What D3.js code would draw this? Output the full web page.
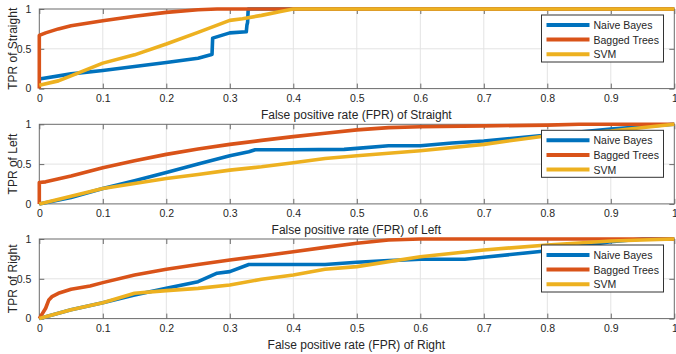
<!DOCTYPE html>
<html><head><meta charset="utf-8">
<script src="https://cdn.jsdelivr.net/npm/d3@7"></script>
<style>html,body{margin:0;padding:0;background:#fff;} svg{display:block;font-family:"Liberation Sans",Arial,sans-serif;}</style>
</head><body>
<svg id="c" width="676" height="354"></svg>
<script>
// ---------- data ----------
const panelNames = ["Straight", "Left", "Right"];
const seriesNames = ["Naive Bayes", "Bagged Trees", "SVM"];
const seriesColors = ["#0072BD", "#D95319", "#EDB120"];
const xTicks = [0, 0.1, 0.2, 0.3, 0.4, 0.5, 0.6, 0.7, 0.8, 0.9, 1];
const yTicks = [0, 0.5, 1];

// Straight
const straightNB = [[0,0.12],[0.05,0.185],[0.1,0.227],[0.15,0.277],[0.2,0.328],[0.25,0.382],[0.27,0.424],[0.272,0.43],[0.273,0.634],[0.3,0.70],[0.326,0.714],[0.327,0.8],[0.328,0.83],[0.329,1.0],[1,1]];
const straightBT = [[0,0],[0,0.668],[0.01,0.70],[0.03,0.75],[0.05,0.79],[0.1,0.853],[0.15,0.91],[0.2,0.958],[0.25,0.99],[0.28,1],[1,1]];
const straightSVM = [[0,0.042],[0.03,0.097],[0.05,0.16],[0.1,0.32],[0.15,0.424],[0.2,0.56],[0.25,0.706],[0.3,0.857],[0.32,0.878],[0.35,0.92],[0.38,0.97],[0.4,1],[1,1]];
// Left
const leftNB = [[0,0],[0.05,0.08],[0.1,0.193],[0.15,0.29],[0.2,0.395],[0.25,0.5],[0.3,0.605],[0.33,0.655],[0.34,0.68],[0.4,0.68],[0.48,0.685],[0.5,0.697],[0.55,0.73],[0.6,0.73],[0.65,0.765],[0.7,0.79],[0.8,0.866],[0.9,0.94],[1,1]];
const leftBT = [[0,0],[0,0.269],[0.01,0.277],[0.05,0.35],[0.1,0.454],[0.15,0.542],[0.2,0.622],[0.25,0.689],[0.3,0.748],[0.35,0.798],[0.4,0.845],[0.45,0.887],[0.5,0.93],[0.55,0.958],[0.6,0.97],[0.7,0.98],[0.8,0.99],[0.85,1],[1,1]];
const leftSVM = [[0,0],[0.05,0.097],[0.1,0.193],[0.15,0.256],[0.2,0.32],[0.25,0.37],[0.3,0.424],[0.35,0.466],[0.4,0.517],[0.45,0.571],[0.5,0.605],[0.6,0.668],[0.7,0.748],[0.8,0.857],[0.9,0.916],[1,1]];
// Right
const rightNB = [[0,0],[0.05,0.11],[0.1,0.2],[0.15,0.297],[0.2,0.38],[0.25,0.464],[0.28,0.57],[0.3,0.59],[0.33,0.68],[0.45,0.68],[0.5,0.707],[0.55,0.728],[0.6,0.745],[0.67,0.745],[0.7,0.77],[0.8,0.853],[0.9,0.967],[0.95,1],[1,1]];
const rightBT = [[0,0],[0.01,0.13],[0.015,0.235],[0.02,0.276],[0.03,0.318],[0.05,0.368],[0.08,0.41],[0.1,0.452],[0.15,0.548],[0.2,0.62],[0.25,0.68],[0.3,0.736],[0.35,0.787],[0.4,0.84],[0.45,0.895],[0.5,0.946],[0.55,0.987],[0.6,1],[1,1]];
const rightSVM = [[0,0],[0.05,0.11],[0.1,0.2],[0.15,0.318],[0.2,0.351],[0.25,0.38],[0.3,0.423],[0.35,0.494],[0.4,0.548],[0.45,0.619],[0.5,0.653],[0.6,0.778],[0.7,0.862],[0.8,0.925],[0.9,0.975],[1,1]];

const panelSeries = [
  [straightNB, straightBT, straightSVM],
  [leftNB, leftBT, leftSVM],
  [rightNB, rightBT, rightSVM]
];

// ---------- layout ----------
const svg = d3.select("#c");
const L = 39.3, R = 674.3, H = 79.6;
const tops = [9, 124.3, 239];
const x = d3.scaleLinear().domain([0, 1]).range([L, R]);
const axisColor = "#6b6b6b", textColor = "#262626";

panelNames.forEach((name, pi) => {
  const top = tops[pi];
  const y = d3.scaleLinear().domain([0, 1]).range([top + H, top]);
  const g = svg.append("g");

  // grid
  g.selectAll(".gx").data(xTicks.slice(1, -1)).join("line")
    .attr("x1", d => x(d)).attr("x2", d => x(d)).attr("y1", top).attr("y2", top + H)
    .attr("stroke", "#e3e3e3").attr("stroke-width", 1);
  g.selectAll(".gy").data(yTicks.slice(1, -1)).join("line")
    .attr("x1", L).attr("x2", R).attr("y1", d => y(d)).attr("y2", d => y(d))
    .attr("stroke", "#e3e3e3").attr("stroke-width", 1);

  // axes via d3 axis (ticks inward)
  const xb = d3.axisBottom(x).tickValues(xTicks).tickSize(-5).tickPadding(9).tickFormat(d => d3.format("")(+d.toFixed(1)));
  const xt = d3.axisTop(x).tickValues(xTicks).tickSize(-5).tickFormat("");
  const yl = d3.axisLeft(y).tickValues(yTicks).tickSize(-5).tickPadding(8).tickFormat(d => String(d));
  const yr = d3.axisRight(y).tickValues(yTicks).tickSize(-5).tickFormat("");
  const gxb = g.append("g").attr("transform", `translate(0,${top + H})`).call(xb);
  const gxt = g.append("g").attr("transform", `translate(0,${top})`).call(xt);
  const gyl = g.append("g").attr("transform", `translate(${L},0)`).call(yl);
  const gyr = g.append("g").attr("transform", `translate(${R},0)`).call(yr);
  [gxb, gxt, gyl, gyr].forEach(a => {
    a.select(".domain").remove();
    a.selectAll(".tick line").attr("stroke", axisColor).attr("stroke-width", 1);
    a.selectAll(".tick text").attr("fill", textColor).style("font-size", "10.5px").style("font-family", "'Liberation Sans',Arial,sans-serif");
  });
  gxb.selectAll(".tick text").attr("dy", "0.71em").attr("y", 6);

  // box
  g.append("rect").attr("x", L).attr("y", top).attr("width", R - L).attr("height", H)
    .attr("fill", "none").attr("stroke", axisColor).attr("stroke-width", 1);

  // lines
  const line = d3.line().x(d => x(d[0])).y(d => y(d[1]));
  panelSeries[pi].forEach((s, si) => {
    g.append("path").datum(s).attr("d", line)
      .attr("fill", "none").attr("stroke", seriesColors[si]).attr("stroke-width", 3.6)
      .attr("stroke-linejoin", "round").attr("stroke-linecap", "butt");
  });

  // labels
  g.append("text").attr("x", (L + R) / 2 - 0.5).attr("y", top + H + 30)
    .attr("text-anchor", "middle").attr("fill", textColor).style("font-size", "12px")
    .text(`False positive rate (FPR) of ${name}`);
  g.append("text").attr("transform", `translate(16.5,${top + H / 2}) rotate(-90)`)
    .attr("text-anchor", "middle").attr("fill", textColor).style("font-size", "12px")
    .text(`TPR of ${name}`);

  // legend
  const lx = 541.5, ly = top + 6, lw = 122, lh = 47;
  const lg = g.append("g");
  lg.append("rect").attr("x", lx).attr("y", ly).attr("width", lw).attr("height", lh)
    .attr("fill", "#fff").attr("stroke", "#333").attr("stroke-width", 1);
  seriesNames.forEach((n, si) => {
    const yy = ly + 10 + si * 14.6;
    lg.append("line").attr("x1", lx + 5).attr("x2", lx + 48).attr("y1", yy).attr("y2", yy)
      .attr("stroke", seriesColors[si]).attr("stroke-width", 4);
    lg.append("text").attr("x", lx + 52).attr("y", yy + 4).attr("fill", textColor)
      .style("font-size", "10.5px").text(n);
  });
});
</script>
</body></html>
